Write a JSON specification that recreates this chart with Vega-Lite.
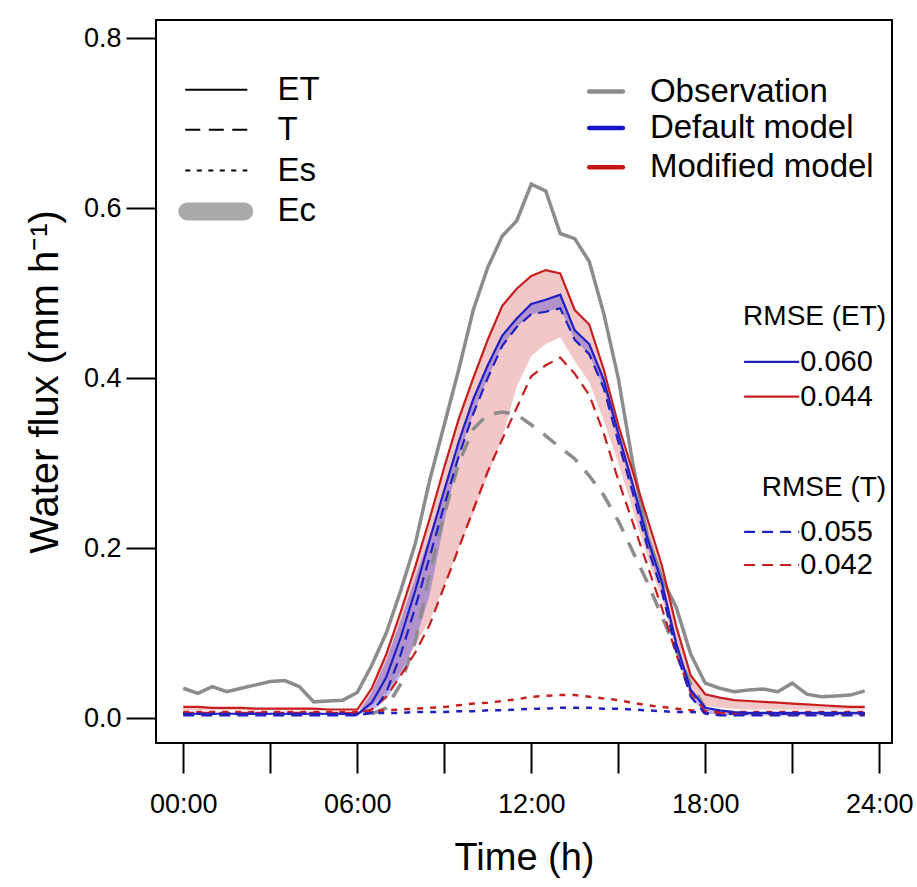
{
  "$schema": "https://vega.github.io/schema/vega-lite/v6.json",
  "width": 736,
  "height": 723,
  "autosize": "none",
  "padding": {"left": 156, "top": 20, "right": 25, "bottom": 144},
  "config": {"view": {"stroke": "black", "strokeWidth": 2}, "font": "Liberation Sans"},
  "resolve": {"scale": {"color": "independent", "strokeDash": "independent"}},
  "datasets": {
    "ts": [
      {"h":0,"obsET":0.035,"modET":0.013,"defET":0.005,"modT":0.006,"defT":0.003,"modEs":0.007,"defEs":0.005,"modLo":0.009,"defLo":0.004,"defHi":0.005},
      {"h":0.5,"obsET":0.029,"modET":0.013,"defET":0.005,"modT":0.006,"defT":0.003,"modEs":0.007,"defEs":0.005,"modLo":0.009,"defLo":0.004,"defHi":0.005},
      {"h":1,"obsET":0.037,"modET":0.012,"defET":0.005,"modT":0.006,"defT":0.003,"modEs":0.007,"defEs":0.005,"modLo":0.009,"defLo":0.004,"defHi":0.005},
      {"h":1.5,"obsET":0.031,"modET":0.012,"defET":0.005,"modT":0.006,"defT":0.003,"modEs":0.007,"defEs":0.005,"modLo":0.009,"defLo":0.004,"defHi":0.005},
      {"h":2,"obsET":0.035,"modET":0.012,"defET":0.005,"modT":0.006,"defT":0.003,"modEs":0.007,"defEs":0.005,"modLo":0.009,"defLo":0.004,"defHi":0.005},
      {"h":2.5,"obsET":0.039,"modET":0.011,"defET":0.005,"modT":0.006,"defT":0.003,"modEs":0.007,"defEs":0.005,"modLo":0.009,"defLo":0.004,"defHi":0.005},
      {"h":3,"obsET":0.043,"modET":0.011,"defET":0.005,"modT":0.006,"defT":0.003,"modEs":0.007,"defEs":0.005,"modLo":0.009,"defLo":0.004,"defHi":0.005},
      {"h":3.5,"obsET":0.044,"modET":0.011,"defET":0.005,"modT":0.006,"defT":0.003,"modEs":0.007,"defEs":0.005,"modLo":0.009,"defLo":0.004,"defHi":0.005},
      {"h":4,"obsET":0.037,"modET":0.011,"defET":0.005,"modT":0.006,"defT":0.003,"modEs":0.007,"defEs":0.005,"modLo":0.009,"defLo":0.004,"defHi":0.005},
      {"h":4.5,"obsET":0.019,"modET":0.011,"defET":0.005,"modT":0.006,"defT":0.003,"modEs":0.007,"defEs":0.005,"modLo":0.009,"defLo":0.004,"defHi":0.005},
      {"h":5,"obsET":0.020,"modET":0.010,"defET":0.005,"modT":0.006,"defT":0.003,"modEs":0.007,"defEs":0.005,"modLo":0.009,"defLo":0.004,"defHi":0.005},
      {"h":5.5,"obsET":0.021,"modET":0.010,"defET":0.005,"modT":0.006,"defT":0.003,"modEs":0.007,"defEs":0.005,"modLo":0.009,"defLo":0.004,"defHi":0.005},
      {"h":6,"obsET":0.030,"modET":0.010,"defET":0.004,"modT":0.006,"defT":0.003,"modEs":0.007,"defEs":0.005,"modLo":0.009,"defLo":0.004,"defHi":0.004},
      {"h":6.5,"obsET":0.062,"obsT":0.005,"modET":0.035,"defET":0.018,"modT":0.010,"defT":0.006,"modEs":0.008,"defEs":0.006,"modLo":0.015,"defLo":0.008,"defHi":0.030},
      {"h":7,"obsET":0.100,"obsT":0.012,"modET":0.075,"defET":0.048,"modT":0.025,"defT":0.030,"modEs":0.009,"defEs":0.006,"modLo":0.030,"defLo":0.022,"defHi":0.068},
      {"h":7.5,"obsET":0.150,"obsT":0.040,"modET":0.125,"defET":0.095,"modT":0.050,"defT":0.075,"modEs":0.010,"defEs":0.006,"modLo":0.055,"defLo":0.050,"defHi":0.115},
      {"h":8,"obsET":0.205,"obsT":0.090,"modET":0.178,"defET":0.150,"modT":0.077,"defT":0.130,"modEs":0.011,"defEs":0.007,"modLo":0.085,"defLo":0.090,"defHi":0.165},
      {"h":8.5,"obsET":0.280,"obsT":0.170,"modET":0.235,"defET":0.210,"modT":0.110,"defT":0.190,"modEs":0.012,"defEs":0.007,"modLo":0.115,"defLo":0.145,"defHi":0.215},
      {"h":9,"obsET":0.345,"obsT":0.240,"modET":0.295,"defET":0.268,"modT":0.155,"defT":0.250,"modEs":0.013,"defEs":0.007,"modLo":0.155,"defLo":0.230,"defHi":0.268},
      {"h":9.5,"obsET":0.410,"obsT":0.300,"modET":0.352,"defET":0.325,"modT":0.200,"defT":0.308,"modEs":0.015,"defEs":0.008,"modLo":0.200,"defLo":0.308,"defHi":0.325},
      {"h":10,"obsET":0.480,"obsT":0.340,"modET":0.400,"defET":0.375,"modT":0.245,"defT":0.358,"modEs":0.017,"defEs":0.008,"modLo":0.240,"defLo":0.358,"defHi":0.375},
      {"h":10.5,"obsET":0.530,"obsT":0.357,"modET":0.445,"defET":0.415,"modT":0.290,"defT":0.400,"modEs":0.018,"defEs":0.009,"modLo":0.285,"defLo":0.400,"defHi":0.415},
      {"h":11,"obsET":0.567,"obsT":0.360,"modET":0.485,"defET":0.450,"modT":0.328,"defT":0.438,"modEs":0.020,"defEs":0.009,"modLo":0.330,"defLo":0.438,"defHi":0.450},
      {"h":11.5,"obsET":0.585,"obsT":0.357,"modET":0.505,"defET":0.470,"modT":0.365,"defT":0.460,"modEs":0.022,"defEs":0.010,"modLo":0.390,"defLo":0.460,"defHi":0.470},
      {"h":12,"obsET":0.628,"obsT":0.345,"modET":0.520,"defET":0.487,"modT":0.402,"defT":0.475,"modEs":0.025,"defEs":0.011,"modLo":0.426,"defLo":0.475,"defHi":0.487},
      {"h":12.5,"obsET":0.620,"obsT":0.332,"modET":0.527,"defET":0.492,"modT":0.415,"defT":0.478,"modEs":0.026,"defEs":0.011,"modLo":0.440,"defLo":0.478,"defHi":0.492},
      {"h":13,"obsET":0.570,"obsT":0.318,"modET":0.523,"defET":0.498,"modT":0.424,"defT":0.482,"modEs":0.027,"defEs":0.012,"modLo":0.448,"defLo":0.482,"defHi":0.498},
      {"h":13.5,"obsET":0.564,"obsT":0.305,"modET":0.480,"defET":0.456,"modT":0.405,"defT":0.445,"modEs":0.027,"defEs":0.012,"modLo":0.420,"defLo":0.445,"defHi":0.456},
      {"h":14,"obsET":0.537,"obsT":0.285,"modET":0.463,"defET":0.440,"modT":0.380,"defT":0.428,"modEs":0.025,"defEs":0.012,"modLo":0.395,"defLo":0.428,"defHi":0.440},
      {"h":14.5,"obsET":0.476,"obsT":0.262,"modET":0.410,"defET":0.398,"modT":0.335,"defT":0.388,"modEs":0.023,"defEs":0.011,"modLo":0.350,"defLo":0.388,"defHi":0.398},
      {"h":15,"obsET":0.400,"obsT":0.232,"modET":0.345,"defET":0.335,"modT":0.280,"defT":0.325,"modEs":0.021,"defEs":0.011,"modLo":0.300,"defLo":0.325,"defHi":0.335},
      {"h":15.5,"obsET":0.300,"obsT":0.196,"modET":0.290,"defET":0.275,"modT":0.230,"defT":0.265,"modEs":0.018,"defEs":0.010,"modLo":0.245,"defLo":0.265,"defHi":0.275},
      {"h":16,"obsET":0.215,"obsT":0.160,"modET":0.235,"defET":0.212,"modT":0.180,"defT":0.202,"modEs":0.015,"defEs":0.009,"modLo":0.190,"defLo":0.202,"defHi":0.212},
      {"h":16.5,"obsET":0.165,"obsT":0.120,"modET":0.180,"defET":0.160,"modT":0.130,"defT":0.150,"modEs":0.013,"defEs":0.008,"modLo":0.140,"defLo":0.150,"defHi":0.160},
      {"h":17,"obsET":0.130,"obsT":0.080,"modET":0.108,"defET":0.088,"modT":0.075,"defT":0.078,"modEs":0.011,"defEs":0.007,"modLo":0.085,"defLo":0.078,"defHi":0.088},
      {"h":17.5,"obsET":0.075,"obsT":0.040,"modET":0.050,"defET":0.033,"modT":0.030,"defT":0.025,"modEs":0.009,"defEs":0.007,"modLo":0.030,"defLo":0.025,"defHi":0.033},
      {"h":18,"obsET":0.041,"obsT":0.012,"modET":0.028,"defET":0.012,"modT":0.008,"defT":0.005,"modEs":0.008,"defEs":0.006,"modLo":0.014,"defLo":0.005,"defHi":0.012},
      {"h":18.5,"obsET":0.035,"modET":0.024,"defET":0.009,"modT":0.006,"defT":0.003,"modEs":0.007,"defEs":0.005,"modLo":0.012,"defLo":0.004,"defHi":0.009},
      {"h":19,"obsET":0.031,"modET":0.021,"defET":0.007,"modT":0.005,"defT":0.003,"modEs":0.007,"defEs":0.005,"modLo":0.011,"defLo":0.003,"defHi":0.007},
      {"h":19.5,"obsET":0.033,"modET":0.020,"defET":0.006,"modT":0.005,"defT":0.003,"modEs":0.007,"defEs":0.005,"modLo":0.010,"defLo":0.003,"defHi":0.006},
      {"h":20,"obsET":0.034,"modET":0.019,"defET":0.006,"modT":0.005,"defT":0.003,"modEs":0.007,"defEs":0.005,"modLo":0.010,"defLo":0.003,"defHi":0.006},
      {"h":20.5,"obsET":0.031,"modET":0.018,"defET":0.006,"modT":0.005,"defT":0.003,"modEs":0.007,"defEs":0.005,"modLo":0.010,"defLo":0.003,"defHi":0.006},
      {"h":21,"obsET":0.041,"modET":0.017,"defET":0.006,"modT":0.005,"defT":0.003,"modEs":0.007,"defEs":0.005,"modLo":0.010,"defLo":0.003,"defHi":0.006},
      {"h":21.5,"obsET":0.028,"modET":0.016,"defET":0.006,"modT":0.005,"defT":0.003,"modEs":0.007,"defEs":0.005,"modLo":0.010,"defLo":0.003,"defHi":0.006},
      {"h":22,"obsET":0.025,"modET":0.015,"defET":0.006,"modT":0.005,"defT":0.003,"modEs":0.007,"defEs":0.005,"modLo":0.010,"defLo":0.003,"defHi":0.006},
      {"h":22.5,"obsET":0.026,"modET":0.014,"defET":0.006,"modT":0.005,"defT":0.003,"modEs":0.007,"defEs":0.005,"modLo":0.010,"defLo":0.003,"defHi":0.006},
      {"h":23,"obsET":0.027,"modET":0.013,"defET":0.006,"modT":0.005,"defT":0.003,"modEs":0.007,"defEs":0.005,"modLo":0.010,"defLo":0.003,"defHi":0.006},
      {"h":23.5,"obsET":0.032,"modET":0.013,"defET":0.006,"modT":0.005,"defT":0.003,"modEs":0.007,"defEs":0.005,"modLo":0.010,"defLo":0.003,"defHi":0.006}
    ],
    "legL": [
      {"key":"ET","h":0.07,"h2":2.21,"v":0.739},
      {"key":"T","h":0.07,"h2":2.21,"v":0.692},
      {"key":"Es","h":0.07,"h2":2.21,"v":0.644}
    ],
    "legEc": [{"h":0.14,"h2":2.1,"v":0.596}],
    "legLText": [
      {"label":"ET","h":3.25,"v":0.739},
      {"label":"T","h":3.25,"v":0.692},
      {"label":"Es","h":3.25,"v":0.644},
      {"label":"Ec","h":3.25,"v":0.596}
    ],
    "legR": [
      {"key":"Observation","h":14.0,"h2":15.16,"v":0.737},
      {"key":"Default model","h":14.0,"h2":15.16,"v":0.694},
      {"key":"Modified model","h":14.0,"h2":15.16,"v":0.648}
    ],
    "rmseHead": [
      {"label":"RMSE (ET)","h":24.24,"v":0.472},
      {"label":"RMSE (T)","h":24.24,"v":0.271}
    ],
    "rmseLines": [
      {"model":"Default","var":"ET","h":19.34,"h2":21.24,"v":0.419,"label":"0.060"},
      {"model":"Modified","var":"ET","h":19.34,"h2":21.24,"v":0.378,"label":"0.044"},
      {"model":"Default","var":"T","h":19.34,"h2":21.24,"v":0.219,"label":"0.055"},
      {"model":"Modified","var":"T","h":19.34,"h2":21.24,"v":0.180,"label":"0.042"}
    ]
  },
  "encoding": {
    "x": {
      "field": "h", "type": "quantitative",
      "scale": {"domain": [-0.94, 24.44], "nice": false, "zero": false},
      "axis": {
        "values": [0,3,6,9,12,15,18,21,24],
        "labelExpr": "datum.value % 6 == 0 ? (datum.value < 10 ? '0' : '') + datum.value + ':00' : ''",
        "title": "Time (h)", "domain": false, "grid": false,
        "tickSize": 30, "tickWidth": 2, "tickColor": "black",
        "labelFontSize": 27, "labelColor": "black", "labelPadding": 18, "labelFont": "Liberation Sans",
        "labelFlush": false, "labelOverlap": false,
        "titleFontSize": 38, "titleFontWeight": "normal", "titleColor": "black", "titlePadding": 22, "titleFont": "Liberation Sans"
      }
    },
    "y": {
      "field": "v", "type": "quantitative",
      "scale": {"domain": [-0.0294, 0.8212], "nice": false, "zero": false},
      "axis": {
        "values": [0,0.2,0.4,0.6,0.8], "format": ".1f",
        "title": "Water flux (mm h⁻¹)", "domain": false, "grid": false,
        "tickSize": 30, "tickWidth": 2, "tickColor": "black",
        "labelFontSize": 27, "labelColor": "black", "labelPadding": 5, "labelFont": "Liberation Sans",
        "labelFlush": false, "labelOverlap": false,
        "titleFontSize": 40, "titleFontWeight": "normal", "titleColor": "black", "titlePadding": 18, "titleFont": "Liberation Sans"
      }
    }
  },
  "layer": [
    {
      "data": {"name": "ts"},
      "mark": {"type": "area", "color": "#e07a7a", "opacity": 0.42},
      "encoding": {
        "y": {"field": "modLo", "type": "quantitative"},
        "y2": {"field": "modET"}
      }
    },
    {
      "data": {"name": "ts"},
      "mark": {"type": "area", "color": "#5b4bd6", "opacity": 0.42},
      "encoding": {
        "y": {"field": "defLo", "type": "quantitative"},
        "y2": {"field": "defHi"}
      }
    },
    {
      "data": {"name": "ts"},
      "mark": {"type": "line", "color": "#8c8c8c", "strokeWidth": 3.5},
      "encoding": {"y": {"field": "obsET", "type": "quantitative"}}
    },
    {
      "data": {"name": "ts"},
      "mark": {"type": "line", "color": "#8c8c8c", "strokeWidth": 3.5, "strokeDash": [16, 12]},
      "encoding": {"y": {"field": "obsT", "type": "quantitative"}}
    },
    {
      "data": {"name": "ts"},
      "mark": {"type": "line", "color": "#c81e1e", "strokeWidth": 2.5, "strokeDash": [6, 7]},
      "encoding": {"y": {"field": "modEs", "type": "quantitative"}}
    },
    {
      "data": {"name": "ts"},
      "mark": {"type": "line", "color": "#2020c0", "strokeWidth": 2.5, "strokeDash": [6, 7]},
      "encoding": {"y": {"field": "defEs", "type": "quantitative"}}
    },
    {
      "data": {"name": "ts"},
      "mark": {"type": "line", "color": "#c81e1e", "strokeWidth": 2.2, "strokeDash": [11, 7]},
      "encoding": {"y": {"field": "modT", "type": "quantitative"}}
    },
    {
      "data": {"name": "ts"},
      "mark": {"type": "line", "color": "#2020c0", "strokeWidth": 2.2, "strokeDash": [11, 7]},
      "encoding": {"y": {"field": "defT", "type": "quantitative"}}
    },
    {
      "data": {"name": "ts"},
      "mark": {"type": "line", "color": "#c81e1e", "strokeWidth": 2.2},
      "encoding": {"y": {"field": "modET", "type": "quantitative"}}
    },
    {
      "data": {"name": "ts"},
      "mark": {"type": "line", "color": "#2020c0", "strokeWidth": 2.2},
      "encoding": {"y": {"field": "defET", "type": "quantitative"}}
    },
    {
      "data": {"name": "legL"},
      "mark": {"type": "rule", "color": "black", "strokeWidth": 2},
      "encoding": {
        "x2": {"field": "h2"},
        "strokeDash": {"field": "key", "type": "nominal", "scale": {"domain": ["ET", "T", "Es"], "range": [[1, 0], [15, 8.5], [5, 6.5]]}, "legend": null}
      }
    },
    {
      "data": {"name": "legEc"},
      "mark": {"type": "rule", "color": "#a9a9a9", "strokeWidth": 18, "strokeCap": "round"},
      "encoding": {"x2": {"field": "h2"}}
    },
    {
      "data": {"name": "legLText"},
      "mark": {"type": "text", "align": "left", "baseline": "middle", "fontSize": 33, "font": "Liberation Sans", "color": "black"},
      "encoding": {"text": {"field": "label"}}
    },
    {
      "data": {"name": "legR"},
      "mark": {"type": "rule", "strokeWidth": 4.5, "strokeCap": "round"},
      "encoding": {
        "x2": {"field": "h2"},
        "color": {"field": "key", "type": "nominal", "scale": {"domain": ["Observation", "Default model", "Modified model"], "range": ["#8c8c8c", "#1414c8", "#c81414"]}, "legend": null}
      }
    },
    {
      "data": {"name": "legR"},
      "mark": {"type": "text", "align": "left", "baseline": "middle", "fontSize": 33, "font": "Liberation Sans", "color": "black", "dx": 27},
      "encoding": {
        "x": {"field": "h2", "type": "quantitative"},
        "text": {"field": "key"}
      }
    },
    {
      "data": {"name": "rmseHead"},
      "mark": {"type": "text", "align": "right", "baseline": "middle", "fontSize": 28, "font": "Liberation Sans", "color": "black"},
      "encoding": {"text": {"field": "label"}}
    },
    {
      "data": {"name": "rmseLines"},
      "mark": {"type": "rule", "strokeWidth": 2.2},
      "encoding": {
        "x2": {"field": "h2"},
        "color": {"field": "model", "type": "nominal", "scale": {"domain": ["Default", "Modified"], "range": ["#2020c0", "#c81e1e"]}, "legend": null},
        "strokeDash": {"field": "var", "type": "nominal", "scale": {"domain": ["ET", "T"], "range": [[1, 0], [11, 7]]}, "legend": null}
      }
    },
    {
      "data": {"name": "rmseLines"},
      "mark": {"type": "text", "align": "left", "baseline": "middle", "fontSize": 29, "font": "Liberation Sans", "color": "black", "dx": 1},
      "encoding": {
        "x": {"field": "h2", "type": "quantitative"},
        "text": {"field": "label"}
      }
    }
  ]
}
